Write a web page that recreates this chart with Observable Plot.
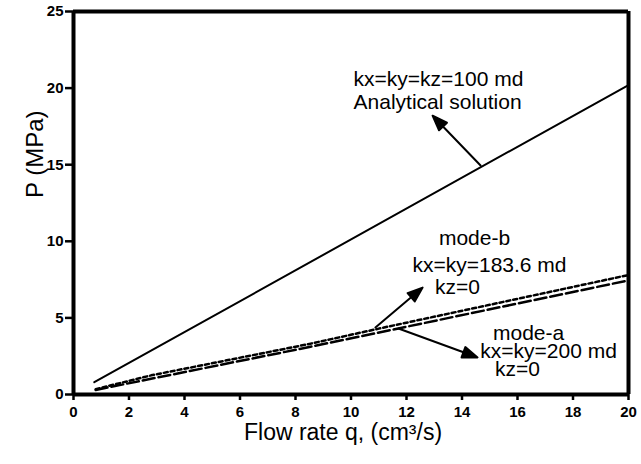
<!DOCTYPE html>
<html><head><meta charset="utf-8">
<script src="https://cdn.jsdelivr.net/npm/d3@7"></script>
<script src="https://cdn.jsdelivr.net/npm/@observablehq/plot@0.6"></script>
<style>
body{margin:0;background:#fff}
svg{font-family:"Liberation Sans",Arial,Helvetica,sans-serif}
</style>
</head><body><div id="chart"></div>
<script>
// ---- data ----
const analyticalQ = [0.75, 20];
const analyticalP = [0.8, 20.2];
const modeBQ = [0.8, 2.8, 8.5, 11, 20];
const modeBP = [0.35, 1.25, 3.3, 4.3, 7.8];
const modeAQ = [0.8, 8.5, 20];
const modeAP = [0.3, 3.1, 7.45];

const xTicks = [0, 2, 4, 6, 8, 10, 12, 14, 16, 18, 20];
const yTicks = [0, 5, 10, 15, 20, 25];

const labelTexts = ["kx=ky=kz=100 md", "Analytical solution", "mode-b", "kx=ky=183.6 md", "kz=0", "mode-a", "kx=ky=200 md", "kz=0"];
const labelQ = [13.15, 13.12, 14.45, 14.99, 13.84, 16.40, 17.12, 16.0];
const labelP = [20.56, 19.06, 10.18, 8.42, 6.98, 3.98, 2.81, 1.63];

const arrowQ1 = [14.67, 10.88, 11.71];
const arrowP1 = [14.95, 4.37, 4.31];
const arrowQ2 = [12.94, 12.58, 14.56];
const arrowP2 = [18.2, 6.98, 2.42];

// ---- build tables ----
const W = 641, H = 464, ML = 73, MR = 13, MT = 11, MB = 70;
const analytical = analyticalQ.map((q, i) => ({q, p: analyticalP[i]}));
const modeB = modeBQ.map((q, i) => ({q, p: modeBP[i]}));
const modeA = modeAQ.map((q, i) => ({q, p: modeAP[i]}));
const labels = labelTexts.map((t, i) => ({t, q: labelQ[i], p: labelP[i]}));
const arrows = arrowQ1.map((q1, i) => ({q1, p1: arrowP1[i], q2: arrowQ2[i], p2: arrowP2[i]}));

const xDomain = [0, 20], yDomain = [0, 25];
const sx = Plot.scale({x: {domain: xDomain, range: [ML, W - MR]}});
const sy = Plot.scale({y: {domain: yDomain, range: [H - MB, MT]}});

const headShape = {
  draw(context, l) {
    const hl = 15, hw = 5.5;
    context.moveTo(0, 0);
    context.lineTo(0, -l + hl);
    context.moveTo(0, -l);
    context.lineTo(hw, -l + hl);
    context.lineTo(-hw, -l + hl);
    context.closePath();
  }
};

const arrowMarks = arrows.map(a => {
  const dx = sx.apply(a.q2) - sx.apply(a.q1);
  const dy = sy.apply(a.p2) - sy.apply(a.p1);
  const len = Math.hypot(dx, dy);
  const rot = Math.atan2(dx, -dy) * 180 / Math.PI;
  return Plot.vector([a], {x: "q1", y: "p1", length: len, rotate: rot, anchor: "start",
    shape: headShape, stroke: "black", fill: "black", strokeWidth: 2});
});

const chart = Plot.plot({
  width: W, height: H,
  marginLeft: ML, marginRight: MR, marginTop: MT, marginBottom: MB,
  x: {domain: xDomain},
  y: {domain: yDomain},
  style: {fontFamily: '"Liberation Sans", Arial, sans-serif', color: "black", background: "white"},
  marks: [
    Plot.axisX({ticks: xTicks, tickSize: 6, tickFormat: () => "", strokeWidth: 2.5, label: null}),
    Plot.axisY({ticks: yTicks, tickSize: 8, tickFormat: () => "", strokeWidth: 2.5, label: null}),
    Plot.text(xTicks, {x: d => d, frameAnchor: "bottom", lineAnchor: "top", dy: 12, text: d => String(d),
      fontSize: 15, fontWeight: "bold", fill: "black"}),
    Plot.text(yTicks, {y: d => d, frameAnchor: "left", textAnchor: "end", dx: -10, text: d => String(d),
      fontSize: 15, fontWeight: "bold", fill: "black"}),
    Plot.line(analytical, {x: "q", y: "p", stroke: "black", strokeWidth: 2}),
    Plot.line(modeB, {x: "q", y: "p", stroke: "black", strokeWidth: 2.5, strokeDasharray: "4,3"}),
    Plot.line(modeA, {x: "q", y: "p", stroke: "black", strokeWidth: 2.5, strokeDasharray: "12,4"}),
    ...arrowMarks,
    Plot.text(labels, {x: "q", y: "p", text: "t", fontSize: 21, fill: "black"}),
    Plot.text(["Flow rate q, (cm³/s)"], {frameAnchor: "bottom", lineAnchor: "top", dy: 29, dx: -8, fontSize: 23, fill: "black"}),
    Plot.text(["P (MPa)"], {frameAnchor: "left", rotate: -90, dx: -38, dy: -5, fontSize: 24, fill: "black"}),
    Plot.ruleX(xDomain, {stroke: "black", strokeWidth: 4}),
    Plot.ruleY(yDomain, {stroke: "black", strokeWidth: 4})
  ]
});
document.getElementById("chart").appendChild(chart);
</script>
</body></html>
